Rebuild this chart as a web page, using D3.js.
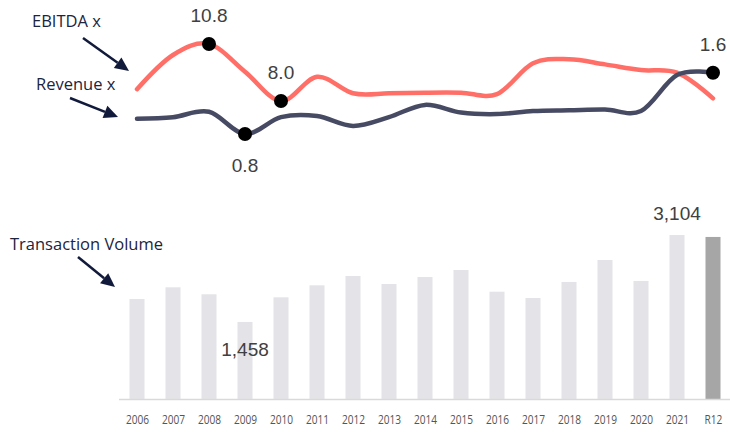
<!DOCTYPE html>
<html>
<head>
<meta charset="utf-8">
<script src="https://cdn.jsdelivr.net/npm/d3@7"></script>
<style>
  body { margin: 0; background: #fff; }
  svg { display: block; }
  .axisLabel { font-family: 'Open Sans', sans-serif; font-size: 13px; fill: #555; }
  .note { font-family: 'Open Sans', sans-serif; font-size: 16.5px; fill: #1c2440; }
  .valueLabel { font-family: 'Liberation Sans', Arial, sans-serif; font-size: 19px; fill: #404040; }
</style>
</head>
<body>
<svg id="chart" width="730" height="432"></svg>
<script>
const categories = ['2006', '2007', '2008', '2009', '2010', '2011', '2012', '2013', '2014',
  '2015', '2016', '2017', '2018', '2019', '2020', '2021', 'R12'];
const ebitdaMultiple = [8.58, 10.26, 10.8, 9.44, 8.0, 9.19, 8.38, 8.38, 8.41,
  8.41, 8.34, 9.85, 10.05, 9.80, 9.52, 9.39, 8.13];
const revenueMultiple = [1.0, 1.02, 1.09, 0.8, 1.02, 1.035, 0.905, 1.02, 1.18,
  1.08, 1.06, 1.10, 1.11, 1.12, 1.10, 1.57, 1.6];
const volume = [1893, 2114, 1982, 1458, 1925, 2152, 2328, 2177, 2309,
  2442, 2031, 1912, 2215, 2631, 2234, 3104, 3067];

// which points get a dot / label
const ebitdaLabelled = ['2008', '2010'];
const revenueLabelled = ['2009', 'R12'];
const volumeLabelled = ['2009', '2021'];

const svg = d3.select('#chart');

const x = d3.scalePoint().domain(categories).range([137, 713]);
const yEbitda = d3.scaleLinear().domain([8, 10.8]).range([101, 44]);
const yRevenue = d3.scaleLinear().domain([0.8, 1.6]).range([134, 72.7]);
const yVolume = d3.scaleLinear().domain([0, 3104]).range([399, 235]);

const BAR_WIDTH = 15;
const fmt = d3.format(',');

// bars
svg.append('g')
  .selectAll('rect')
  .data(categories)
  .enter().append('rect')
  .attr('x', d => x(d) - BAR_WIDTH / 2)
  .attr('width', BAR_WIDTH)
  .attr('y', (d, i) => yVolume(volume[i]))
  .attr('height', (d, i) => yVolume(0) - yVolume(volume[i]))
  .attr('fill', d => d === 'R12' ? '#a6a6a6' : '#e4e3e7');

// baseline + category labels
const axis = svg.append('g')
  .attr('transform', `translate(0,${yVolume(0)})`)
  .call(d3.axisBottom(x).tickSize(0).tickPadding(16));
axis.select('.domain').remove();
axis.attr('font-size', null).attr('font-family', null);
axis.selectAll('text')
  .attr('class', 'axisLabel')
  .attr('fill', null)
  // source font is narrower than anything installed, squeeze it
  .attr('transform', 'scale(0.78,1)');
axis.append('line')
  .attr('x1', 119).attr('x2', 730)
  .attr('y1', 0.5).attr('y2', 0.5)
  .attr('stroke', '#d9d9d9')
  .attr('stroke-width', 1.5);

// lines
const curve = d3.curveCardinal.tension(0);
const series = [
  { values: ebitdaMultiple, y: yEbitda, color: '#ff6f67', labelled: ebitdaLabelled, dy: -22 },
  { values: revenueMultiple, y: yRevenue, color: '#474a63', labelled: revenueLabelled, dy: -22 }
];
series.forEach(s => {
  svg.append('path')
    .datum(categories)
    .attr('fill', 'none')
    .attr('stroke', s.color)
    .attr('stroke-width', 4.5)
    .attr('stroke-linecap', 'round')
    .attr('d', d3.line()
      .x(d => x(d))
      .y((d, i) => s.y(s.values[i]))
      .curve(curve));
});
series.forEach(s => {
  const pts = categories.map((c, i) => ({ c, v: s.values[i] }))
    .filter(d => s.labelled.includes(d.c));
  svg.append('g').selectAll('circle')
    .data(pts)
    .enter().append('circle')
    .attr('cx', d => x(d.c))
    .attr('cy', d => s.y(d.v))
    .attr('r', 7)
    .attr('fill', '#000');
  svg.append('g').selectAll('text')
    .data(pts)
    .enter().append('text')
    .attr('class', 'valueLabel')
    .attr('text-anchor', 'middle')
    .attr('x', d => x(d.c))
    // the 2009 revenue low is labelled underneath
    .attr('y', d => s.y(d.v) + (d.c === '2009' ? 38 : s.dy))
    .text(d => d.v.toFixed(1));
});

// volume labels
svg.append('g').selectAll('text')
  .data(categories.map((c, i) => ({ c, v: volume[i] })).filter(d => volumeLabelled.includes(d.c)))
  .enter().append('text')
  .attr('class', 'valueLabel')
  .attr('text-anchor', 'middle')
  .attr('x', d => x(d.c))
  .attr('y', d => yVolume(d.v) + (d.c === '2009' ? 34 : -15))
  .text(d => fmt(d.v));

// notes with arrows
const notes = [
  { text: 'EBITDA x', tx: 32, ty: 27, from: [83, 38], to: [129, 71] },
  { text: 'Revenue x', tx: 36, ty: 90, from: [70, 98], to: [118, 117] },
  { text: 'Transaction Volume', tx: 10, ty: 250, from: [78, 257], to: [115, 287] }
];
const ARROW = '#111a3a';
notes.forEach(n => {
  svg.append('text')
    .attr('class', 'note')
    .attr('x', n.tx)
    .attr('y', n.ty)
    .text(n.text);
  const [x1, y1] = n.from;
  const [x2, y2] = n.to;
  const ang = Math.atan2(y2 - y1, x2 - x1);
  const headLen = 14;
  const headW = 6.5;
  const bx = x2 - headLen * Math.cos(ang);
  const by = y2 - headLen * Math.sin(ang);
  svg.append('line')
    .attr('x1', x1).attr('y1', y1)
    .attr('x2', bx).attr('y2', by)
    .attr('stroke', ARROW)
    .attr('stroke-width', 2.5);
  svg.append('path')
    .attr('fill', ARROW)
    .attr('d', `M${x2},${y2}
      L${bx + headW * Math.sin(ang)},${by - headW * Math.cos(ang)}
      L${bx - headW * Math.sin(ang)},${by + headW * Math.cos(ang)}Z`);
});
</script>
</body>
</html>
